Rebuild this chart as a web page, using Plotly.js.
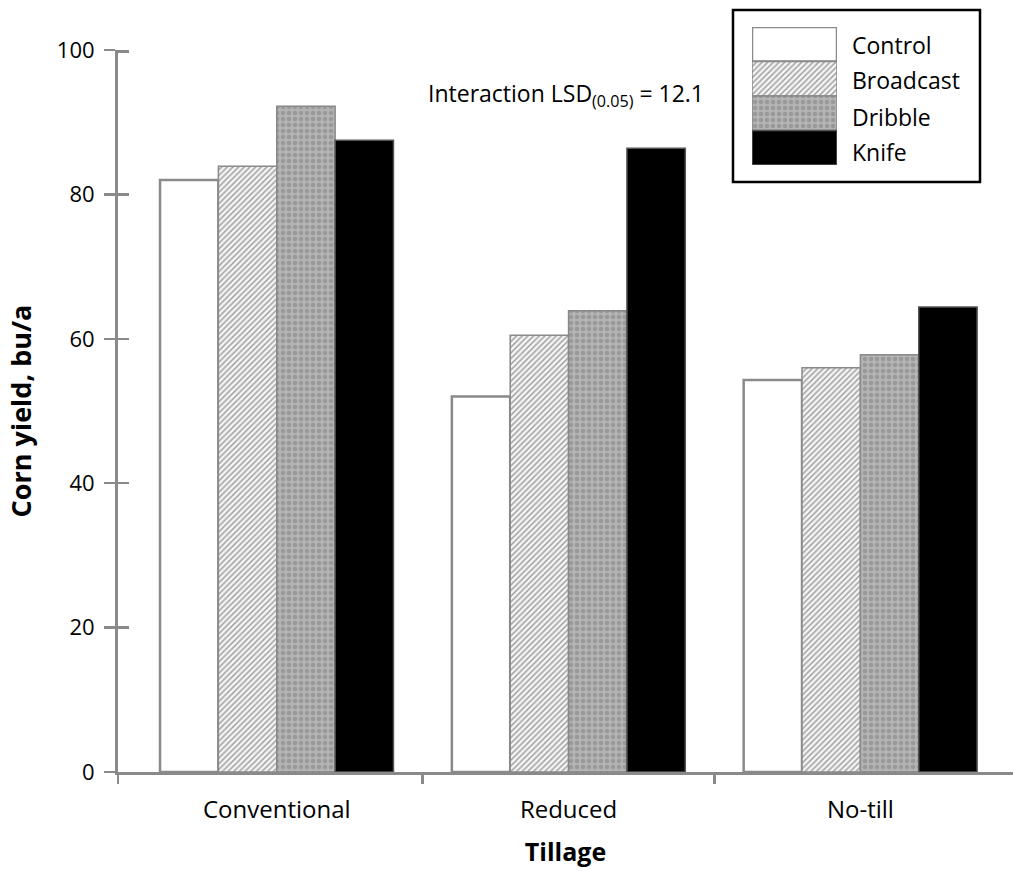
<!DOCTYPE html>
<html>
<head>
<meta charset="utf-8">
<script src="https://cdn.plot.ly/plotly-3.0.1.min.js"></script>
<style>
html,body{margin:0;padding:0;background:#fff;overflow:hidden;}
#chart{width:1013px;height:871px;}
</style>
</head>
<body>
<div id="chart"></div>
<script>
// ---- data ----
var tillage = ["Conventional", "Reduced", "No-till"];
var seriesNames = ["Control", "Broadcast", "Dribble", "Knife"];
var control   = [82.0, 52.0, 54.3];
var broadcast = [83.9, 60.5, 56.0];
var dribble   = [92.2, 63.9, 57.8];
var knife     = [87.5, 86.4, 64.4];
var yTicks = [0, 20, 40, 60, 80, 100];
var lsdLabel = "Interaction LSD<sub>(0.05)</sub> = 12.1";

var FONT = "Open Sans, Noto Sans, sans-serif";
var GREY = "#8a8a8a";

var styles = [
  {color: "#ffffff", line: {color: GREY, width: 2.5}},
  {color: "#eeeeee", pattern: {shape: "/", fgcolor: "#9a9a9a", bgcolor: "#f4f4f4", size: 4, solidity: 0.35}, line: {color: "#8a8a8a", width: 1.5}},
  {color: "#aaaaaa", pattern: {shape: ".", fgcolor: "#999999", bgcolor: "#b4b4b4", size: 6, solidity: 0.45}, line: {color: "#888888", width: 1.5}},
  {color: "#000000", line: {color: "#555555", width: 1.5}}
];
var values = [control, broadcast, dribble, knife];

var traces = [];
for (var i = 0; i < 4; i++) {
  traces.push({
    type: "bar", name: seriesNames[i], x: tillage, y: values[i],
    marker: styles[i], showlegend: false, hoverinfo: "x+y+name"
  });
}
// legend key swatches (stacked in an inset axis)
for (var j = 0; j < 4; j++) {
  traces.push({
    type: "bar", name: seriesNames[j], x: [0], y: [1], base: [3 - j],
    width: [1], offset: [-0.5], offsetgroup: "key",
    xaxis: "x2", yaxis: "y2", marker: styles[j], showlegend: false, hoverinfo: "skip"
  });
}
// empty trace so the overlay axes (cross ticks / boundary ticks) are drawn
traces.push({type: "scatter", mode: "none", x: [], y: [], xaxis: "x3", yaxis: "y3", showlegend: false, hoverinfo: "skip"});

var H = 871, W = 1013, L = 118, T = 10, B = 99, R = 0;
var PW = W - L - R, PH = H - T - B;
function px(x) { return (x - L) / PW; }
function py(y) { return (H - B - y) / PH; }

var yDomTop = py(50);
// inner halves of the cross ticks (top one nudged so it is not clipped at the axis end)
var innerTickVals = yTicks.map(function (v) { return v === 100 ? 99.8 : v; });
var legendY = [45, 80, 117, 152];
var annotations = [];
for (var k = 0; k < 4; k++) {
  annotations.push({
    xref: "paper", yref: "paper", x: px(850), y: py(legendY[k]),
    xanchor: "left", yanchor: "middle", showarrow: false,
    text: seriesNames[k], font: {family: FONT, size: 23, color: "#000"}
  });
}
annotations.push({
  xref: "paper", yref: "paper", x: px(566), y: py(94),
  xanchor: "center", yanchor: "middle", showarrow: false,
  text: lsdLabel, font: {family: FONT, size: 23, color: "#000"}
});

var layout = {
  width: W, height: H,
  margin: {l: L, r: R, t: T, b: B, pad: 0},
  paper_bgcolor: "#fff", plot_bgcolor: "rgba(0,0,0,0)",
  barmode: "group", bargap: 0.2, bargroupgap: 0,
  showlegend: false,
  font: {family: FONT, size: 20, color: "#000"},
  xaxis: {
    type: "category", range: [-0.544, 2.523],
    showline: true, linecolor: GREY, linewidth: 2.5,
    ticks: "", showgrid: false, zeroline: false,
    ticklabelstandoff: 15,
    tickfont: {family: FONT, size: 24, color: "#000"},
    title: {text: "<b>Tillage</b>", font: {family: FONT, size: 25, color: "#000"}, standoff: 19},
    automargin: false
  },
  xaxis3: {
    overlaying: "x", anchor: "y3", type: "linear", range: [-0.544, 2.523],
    tickmode: "array", tickvals: [-0.544, 0.5, 1.5], ticks: "outside", ticklen: 11,
    tickwidth: 2.5, tickcolor: GREY, showticklabels: false,
    showline: false, showgrid: false, zeroline: false
  },
  yaxis: {
    domain: [0, yDomTop], range: [0, 100],
    tickmode: "array", tickvals: yTicks,
    ticks: "outside", ticklen: 11, tickwidth: 2.5, tickcolor: GREY,
    showline: true, linecolor: GREY, linewidth: 3,
    showgrid: false, zeroline: false,
    ticklabelstandoff: 5,
    tickfont: {family: FONT, size: 22, color: "#000"},
    title: {text: "<b>Corn yield, bu/a</b>", font: {family: FONT, size: 27, color: "#000"}, standoff: 18},
    automargin: false
  },
  yaxis3: {
    overlaying: "y", anchor: "x3", domain: [0, yDomTop], range: [0, 100],
    tickmode: "array", tickvals: innerTickVals, ticks: "inside", ticklen: 11,
    tickwidth: 2.5, tickcolor: GREY, showticklabels: false,
    showline: false, showgrid: false, zeroline: false
  },
  xaxis2: {
    domain: [px(752), px(837)], anchor: "y2", range: [-0.5, 0.5],
    visible: false, fixedrange: true
  },
  yaxis2: {
    domain: [py(165), py(27)], anchor: "x2", range: [0, 4],
    visible: false, fixedrange: true
  },
  shapes: [{
    type: "rect", xref: "paper", yref: "paper",
    x0: px(733), x1: px(980), y0: py(182), y1: py(10),
    line: {color: "#000", width: 2.5}, fillcolor: "rgba(0,0,0,0)"
  }],
  annotations: annotations
};

Plotly.newPlot("chart", traces, layout, {displayModeBar: false, staticPlot: true});
</script>
</body>
</html>
